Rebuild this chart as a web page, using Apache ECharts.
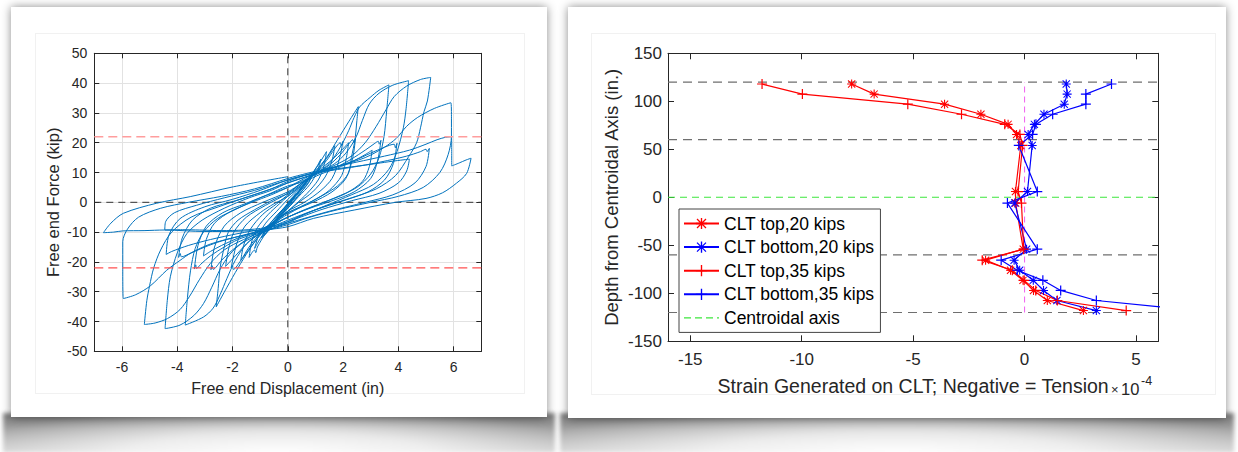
<!DOCTYPE html>
<html>
<head>
<meta charset="utf-8">
<script src="https://cdn.jsdelivr.net/npm/echarts@6/dist/echarts.min.js"></script>
<style>
  html, body { margin: 0; padding: 0; background: #ffffff; }
  body { width: 1238px; height: 452px; position: relative; overflow: hidden; font-family: "Liberation Sans", Arial, sans-serif; }
  .bshadow { position: absolute; top: 413px; height: 40px;
    background:
      radial-gradient(ellipse 60% 115% at 50% 100%, rgba(255,255,255,0.97) 0%, rgba(255,255,255,0.72) 45%, rgba(255,255,255,0) 100%),
      linear-gradient(to bottom, #787878 0%, #a6a6a6 45%, #d0d0d0 100%);
    filter: blur(2px);
  }
  .card { position: absolute; background: #ffffff; box-shadow: 0 0 9px rgba(0,0,0,0.45); }
  .inner { position: absolute; border: 1px solid #f1f1f1; }
  #card1 { left: 11px; top: 7px; width: 536px; height: 410px; }
  #card2 { left: 568px; top: 7px; width: 658px; height: 411px; }
  #bs1 { left: 3px; width: 552px; }
  #bs2 { left: 560px; width: 674px; }
  #in1 { left: 35px; top: 33px; width: 488px; height: 359px; }
  #in2 { left: 591px; top: 33px; width: 623px; height: 360px; }
  #chart { position: absolute; left: 0; top: 0; width: 1238px; height: 452px; }
</style>
</head>
<body>
<div class="bshadow" id="bs1"></div>
<div class="bshadow" id="bs2"></div>
<div class="card" id="card1"></div>
<div class="card" id="card2"></div>
<div class="inner" id="in1"></div>
<div class="inner" id="in2"></div>
<div id="chart"></div>
<script>
// ---------------- Left chart: hysteresis (Free end Displacement [in], Free end Force [kip]) ----------------
const cyc01 = [[0,0],[0.15,1.5],[0.3,3],[0.2,1.8],[0,-0.5],[-0.2,-2.8],[-0.35,-4.5],[-0.25,-3.3],[-0.05,-1]];
const cyc02 = [[0.15,1],[0.35,3.2],[0.5,5],[0.35,3],[0.1,0.2],[-0.15,-2.8],[-0.4,-5.5],[-0.55,-7.5],[-0.4,-5.6],[-0.15,-3],[0.05,-0.8]];
const cyc03 = [[0.3,2.5],[0.6,6],[0.75,8],[0.6,5.5],[0.3,2],[0,-1.5],[-0.3,-4.5],[-0.6,-8],[-0.8,-10.5],[-0.65,-8],[-0.35,-4.5],[-0.05,-1.5]];
const cyc04 = [[0.3,2.5],[0.65,6.5],[0.95,10.5],[0.8,7.5],[0.45,3],[0.1,-1],[-0.2,-4],[-0.55,-8],[-0.95,-12],[-0.8,-9],[-0.45,-5],[-0.1,-1.5]];
const cyc05 = [[0.25,2],[0.6,5.5],[0.9,9.5],[0.75,6.5],[0.35,2],[0,-2],[-0.3,-5],[-0.65,-9],[-0.9,-11.5],[-0.7,-8],[-0.35,-4],[0,-0.5]];
const cyc06 = [[0.4,4],[0.8,8.5],[1.05,12],[1.2,14.5],[1.05,10],[0.8,6],[0.4,2],[0,-2],[-0.4,-5.5],[-0.8,-9.5],[-1.05,-13],[-1.2,-15.5],[-1.05,-11],[-0.8,-7],[-0.4,-3],[0,1]];
const cyc07 = [[0.4,4.5],[0.8,8.5],[1.1,12.5],[1.4,17],[1.3,12],[1.1,7.5],[0.7,3],[0.3,-0.5],[0,-3],[-0.4,-6.5],[-0.8,-10.5],[-1.1,-15],[-1.16,-16.9],[-1.2,-16],[-1.4,-18.5],[-1.3,-13],[-1.1,-8.5],[-0.7,-4],[-0.3,-0.5],[0,2]];
const cyc08 = [[0.5,5.5],[1.0,10],[1.3,13.5],[1.5,16],[1.7,19],[1.6,14],[1.35,8.5],[0.9,3.5],[0.4,0],[0,-3],[-0.5,-6.5],[-1.0,-11],[-1.3,-14.5],[-1.5,-17],[-1.7,-19.5],[-1.6,-14.5],[-1.35,-9],[-0.9,-4],[-0.4,-0.5],[0,2.5]];
const cyc09 = [[0.5,6],[1.0,10],[1.4,14],[1.7,18],[1.9,20],[1.93,19],[2.0,20.5],[1.85,14],[1.6,8],[1.2,4],[0.6,0],[0,-3],[-0.5,-6.5],[-1.0,-10.5],[-1.4,-15],[-1.7,-19.5],[-1.97,-22.5],[-2.0,-21.3],[-2.05,-22],[-1.85,-14],[-1.55,-8],[-1.0,-3.5],[-0.5,-0.5],[0,2]];
const cyc10 = [[0.5,6],[1.0,10.5],[1.4,15],[1.8,21],[2.2,27],[2.55,32.1],[2.5,27.5],[2.43,21],[2.3,15],[2.19,9.7],[1.8,5.5],[1.2,2],[0.5,-1.5],[0,-4],[-0.5,-7],[-1.0,-11],[-1.4,-16],[-1.8,-22],[-2.2,-28.5],[-2.59,-35.1],[-2.52,-29],[-2.45,-22],[-2.3,-15],[-2.15,-10],[-1.8,-6],[-1.2,-2.5],[-0.5,1],[0,3]];
const cyc11 = [[0.5,6.5],[1.0,10],[1.5,13.5],[1.9,17],[2.2,20],[2.12,15],[1.95,9],[1.5,4],[0.9,0.5],[0,-3.5],[-0.5,-6.5],[-1.0,-10],[-1.5,-14],[-1.9,-18],[-2.25,-21.5],[-2.15,-16],[-1.95,-10],[-1.5,-5],[-0.8,-1],[0,3]];
const cyc12 = [[0.5,6.5],[1.0,9.5],[1.5,12.5],[1.9,16],[2.2,19.5],[2.35,21],[2.39,20],[2.45,21.5],[2.35,15],[2.1,8],[1.6,3.5],[0.9,0],[0,-3.5],[-0.5,-6.5],[-1.0,-9.5],[-1.5,-12.5],[-2.0,-16],[-2.4,-19.5],[-2.7,-22.5],[-2.73,-21.3],[-2.78,-22.6],[-2.65,-15],[-2.3,-8],[-1.7,-3.5],[-0.9,0],[0,3.5]];
const cyc13 = [[0.5,6.5],[1.0,9.5],[1.5,13],[1.9,18.5],[2.2,24],[2.4,28.5],[2.6,32],[2.98,35.2],[3.3,37.6],[3.66,39.4],[3.58,31],[3.48,22],[3.3,15],[3.0,9.5],[2.5,5],[1.7,1.5],[0.9,-1.5],[0,-5],[-0.5,-7.5],[-1.0,-10.5],[-1.5,-14],[-1.9,-19.5],[-2.2,-25.5],[-2.45,-31],[-2.7,-35.5],[-3.05,-38.5],[-3.71,-41.2],[-3.63,-32],[-3.52,-23],[-3.35,-15.5],[-3.05,-10],[-2.55,-5.5],[-1.8,-2],[-1.0,1.5],[0,5]];
const cyc14 = [[0.6,7.5],[1.2,10],[1.8,12],[2.3,14.5],[2.8,17.5],[3.15,19.8],[3.27,20.5],[3.31,19.5],[3.37,20.8],[3.25,14],[3.0,8],[2.4,3.5],[1.6,0.5],[0.8,-2],[0,-5],[-0.6,-8],[-1.2,-10.5],[-1.8,-12.5],[-2.3,-15],[-2.8,-18],[-3.15,-20.8],[-3.3,-22.2],[-3.33,-21],[-3.38,-22.4],[-3.25,-14.5],[-2.95,-8],[-2.35,-3.5],[-1.55,-0.5],[-0.75,2.5],[0,5.5]];
const cyc15 = [[0.6,7],[1.2,9.5],[1.8,11.5],[2.4,14],[2.8,16],[3.05,17.5],[2.95,12],[2.7,7],[2.1,3],[1.3,0],[0.6,-2.5],[0,-5],[-0.6,-7.5],[-1.2,-10],[-1.8,-12],[-2.4,-14.5],[-2.8,-16.5],[-3.05,-18],[-2.95,-12.5],[-2.65,-7],[-2.05,-3],[-1.3,0],[-0.6,2.5],[0,5]];
const cyc16 = [[0.6,8],[1.2,10.5],[1.7,13],[2.1,16.5],[2.45,21.5],[2.7,27.5],[2.95,33],[3.3,36.6],[3.8,39.3],[4.37,40.8],[4.28,31.5],[4.18,25],[3.95,17],[3.65,11],[3.1,6],[2.3,2.5],[1.4,-1],[0.6,-4],[0,-6.5],[-0.6,-9],[-1.2,-11.5],[-1.7,-14],[-2.1,-17.5],[-2.45,-22.5],[-2.75,-28.5],[-3.05,-34],[-3.4,-38],[-3.9,-41.2],[-4.44,-42.4],[-4.36,-33],[-4.25,-25],[-4.0,-17],[-3.65,-10.5],[-3.1,-6],[-2.3,-2],[-1.4,1.5],[-0.6,4],[0,6.5]];
const cyc17 = [[0.8,9],[1.6,11.5],[2.4,14],[3.0,16.5],[3.5,18.5],[3.85,19.5],[3.89,18.3],[3.95,19.8],[3.82,13],[3.5,7.5],[2.9,3.5],[2.0,0.5],[1.0,-2.5],[0,-6],[-0.8,-9],[-1.6,-11],[-2.4,-13],[-3.0,-15],[-3.5,-17],[-3.85,-18.3],[-3.89,-17.2],[-3.95,-18.5],[-3.82,-12],[-3.45,-6],[-2.8,-2],[-1.9,0.5],[-0.9,3.5],[0,6.5]];
const cyc18 = [[0.8,9],[1.6,12],[2.3,15.5],[2.8,20],[3.2,25.5],[3.55,31],[3.85,35.5],[4.3,39],[4.8,41.2],[5.17,41.9],[5.05,34],[4.93,30.5],[4.8,25],[4.66,20],[4.37,15.3],[3.9,9],[3.2,4.5],[2.3,1.5],[1.3,-1.5],[0.5,-4.5],[0,-7],[-0.8,-9.5],[-1.6,-12.5],[-2.3,-16],[-2.8,-20.5],[-3.2,-26],[-3.55,-31.5],[-3.9,-36],[-4.35,-39],[-4.8,-40.5],[-5.19,-41],[-5.1,-33],[-5.0,-28],[-4.85,-22],[-4.6,-16],[-4.2,-10],[-3.5,-5],[-2.5,-1.5],[-1.4,2],[-0.6,4.5],[0,7]];
const cyc19 = [[0.8,9.5],[1.6,11],[2.4,12],[3.2,13],[3.8,13.8],[4.4,14.5],[4.3,10.5],[4.0,6.5],[3.3,3],[2.3,0.5],[1.2,-2.5],[0,-6.5],[-0.8,-8.5],[-1.6,-9.3],[-2.4,-9.5],[-3.2,-9.3],[-3.8,-9.2],[-4.45,-9.3],[-4.42,-6.5],[-4.1,-3.5],[-3.3,-1],[-2.3,1.5],[-1.2,4],[0,7.5]];
const cyc20 = [[0.8,9.5],[1.8,11],[2.8,12.5],[3.6,14],[4.3,15.5],[4.8,17],[5.0,17.8],[5.04,17],[5.12,18.1],[5.0,12],[4.6,6.5],[3.8,2.5],[2.8,0],[1.5,-3],[0,-7],[-0.8,-8.8],[-1.8,-10.5],[-2.8,-12.5],[-3.6,-14.5],[-4.2,-16.5],[-4.4,-17.5],[-4.3,-11],[-3.9,-5.5],[-3.0,-1.5],[-2.0,1],[-1.0,4],[0,7.5]];
const cyc21 = [[0.8,9.5],[1.8,12],[2.8,15],[3.5,18.5],[3.93,21.5],[4.3,25.5],[4.7,28.5],[5.3,31.5],[5.9,33.4],[5.92,28],[5.92,22.2],[5.8,16],[5.5,10],[4.9,5],[4.0,2],[3.0,0],[1.8,-2.5],[0.8,-5],[0,-7.5],[-0.8,-9.5],[-1.8,-11.5],[-2.8,-14],[-3.5,-17],[-3.9,-19.5],[-4.38,-22.8],[-4.98,-28.1],[-5.5,-31],[-5.95,-32.3],[-5.97,-22],[-5.97,-13.2],[-5.8,-9],[-5.4,-5],[-4.6,-2],[-3.6,0],[-2.4,2],[-1.2,4.5],[0,8]];
const cyc22 = [[0.69,9.7],[1.5,11.5],[2.5,13.5],[3.5,15.5],[4.4,17.5],[5.0,19.5],[5.4,21],[5.7,21.8],[5.92,22],[5.93,17],[5.93,12.2],[6.2,13.2],[6.45,14.2],[6.63,14.8],[6.47,9.7],[6.1,6.4],[5.6,3.2],[5.0,1.3],[3.9,0],[2.4,-2.6],[0.93,-5.4],[0,-8.2],[-0.8,-9.2],[-1.8,-9.7],[-3.0,-9.8],[-4.45,-9.3],[-5.2,-9.5],[-5.97,-9.6],[-6.3,-10],[-6.67,-10.2],[-6.4,-7],[-5.95,-3.7],[-4.74,-0.3],[-3.53,1.9],[-1.97,5.2],[0,8.6]];
const hysteresisCycles = [cyc01,cyc02,cyc03,cyc04,cyc05,cyc06,cyc07,cyc08,cyc09,cyc10,cyc11,cyc12,cyc13,cyc14,cyc15,cyc16,cyc17,cyc18,cyc19,cyc20,cyc21,cyc22];

const dispLimits = [-7, 7];
const dispTicks = [-6, -4, -2, 0, 2, 4, 6];
const forceLimits = [-50, 50];
const yieldForceLines = [22, -22];

// ---------------- Right chart: strain profile ----------------
const depthIn        = [118, 107.5, 97, 86.5, 76, 65.5, 54, 6, -6, -54, -65.5, -76, -86.5, -97, -107.5, -118];
const strainTop20    = [-7.76, -6.75, -3.59, -1.96, -0.74, -0.36, -0.17, -0.41, -0.40, -0.06, -1.75, -0.63, -0.07, 0.40, 1.02, 2.64];
const strainBottom20 = [1.87, 1.91, 1.78, 0.87, 0.44, 0.16, 0.34, 0.13, -0.44, 0.09, -0.47, -0.22, 0.39, 0.85, 1.45, 3.22];
const strainTop35    = [-11.78, -9.97, -5.24, -2.83, -0.89, -0.21, -0.09, -0.29, -0.14, -0.04, -1.90, -0.55, -0.02, 0.50, 1.47, 4.56];
const strainBottom35 = [3.90, 2.75, 2.75, 1.26, 0.51, 0.36, -0.26, 0.57, -0.77, 0.57, -1.05, -0.33, 0.82, 1.62, 3.22, 7.70];
const strainLimits = [-16, 6];
const strainTicks = [-15, -10, -5, 0, 5];
const depthLimits = [-150, 150];
const interfaceDepths = [120, 60, -60, -120];
const centroidDepth = 0;

// ---------------- build ----------------
const AX = '#262626';
const FONT = '"Liberation Sans", Arial, sans-serif';
const STAR = 'path://M4.4,0 H5.6 V4.4 H10 V5.6 H5.6 V10 H4.4 V5.6 H0 V4.4 H4.4 Z M0.6,1.4 L1.4,0.6 L9.4,8.6 L8.6,9.4 Z M8.6,0.6 L9.4,1.4 L1.4,9.4 L0.6,8.6 Z';
const PLUS = 'path://M4.4,0 H5.6 V4.4 H10 V5.6 H5.6 V10 H4.4 V5.6 H0 V4.4 H4.4 Z';
const DASH_ICON = 'path://M0,0 H7 V1.2 H0 Z M11,0 H18 V1.2 H11 Z M22,0 H29 V1.2 H22 Z M33,0 H35 V1.2 H33 Z';

const hysteresisData = [].concat(...hysteresisCycles);
const zip = (xs, ys) => xs.map((v, i) => [v, ys[i]]);

function boxAxis(extra) {
  return Object.assign({
    type: 'value',
    axisLine: { show: true, onZero: false, lineStyle: { color: AX, width: 1 } },
    axisTick: { show: true, inside: true, length: 5, lineStyle: { color: AX, width: 1 } },
    axisLabel: { show: false },
    splitLine: { show: false }
  }, extra);
}

const series = [];
series.push({
  type: 'line', xAxisIndex: 0, yAxisIndex: 0, data: [[dispLimits[0], 0], [dispLimits[1], 0]],
  showSymbol: false, silent: true, z: 1, lineStyle: { color: '#333', width: 1, type: [7, 5] }
});
series.push({
  type: 'line', xAxisIndex: 0, yAxisIndex: 0, data: [[0, forceLimits[0]], [0, forceLimits[1]]],
  showSymbol: false, silent: true, z: 1, lineStyle: { color: '#333', width: 1, type: [7, 5] }
});
series.push({
  type: 'line', xAxisIndex: 0, yAxisIndex: 0, data: hysteresisData,
  showSymbol: false, silent: true, z: 2, smooth: 0.3, clip: true,
  lineStyle: { color: '#0072BD', width: 1 }
});
yieldForceLines.forEach((f, i) => series.push({
  type: 'line', xAxisIndex: 0, yAxisIndex: 0, data: [[dispLimits[0], f], [dispLimits[1], f]],
  showSymbol: false, silent: true, z: 3,
  lineStyle: { color: i === 0 ? '#ff9d9d' : '#ff5050', width: 1.4, type: [9, 5] }
}));

interfaceDepths.forEach(d => series.push({
  type: 'line', xAxisIndex: 2, yAxisIndex: 2, data: [[strainLimits[0], d], [strainLimits[1], d]],
  showSymbol: false, silent: true, z: 1, lineStyle: { color: '#6f6f6f', width: 1.2, type: [9, 6] }
}));
series.push({
  type: 'line', xAxisIndex: 2, yAxisIndex: 2, data: [[0, interfaceDepths[3]], [0, interfaceDepths[0]]],
  showSymbol: false, silent: true, z: 1, lineStyle: { color: '#f060f0', width: 1, type: [6, 4] }
});

function profile(name, xs, color, symbol, size) {
  return {
    name: name, type: 'line', xAxisIndex: 2, yAxisIndex: 2, data: zip(xs, depthIn),
    symbol: symbol, symbolSize: size, showSymbol: true, clip: true, z: 3,
    lineStyle: { color: color, width: 1.2 },
    itemStyle: { color: color, borderWidth: 0 }
  };
}
series.push(profile('CLT top,20 kips', strainTop20, '#ff0000', STAR, 9));
series.push(profile('CLT bottom,20 kips', strainBottom20, '#0000ff', STAR, 9));
series.push(profile('CLT top,35 kips', strainTop35, '#ff0000', PLUS, 10));
series.push(profile('CLT bottom,35 kips', strainBottom35, '#0000ff', PLUS, 10));
series.push({
  name: 'Centroidal axis', type: 'line', xAxisIndex: 2, yAxisIndex: 2,
  data: [[strainLimits[0], centroidDepth], [strainLimits[1], centroidDepth]],
  symbol: 'none', z: 2, lineStyle: { color: '#3ce63c', width: 1.1, type: [7, 5] },
  itemStyle: { color: '#3ce63c' }
});

const option = {
  animation: false,
  backgroundColor: 'transparent',
  textStyle: { fontFamily: FONT },
  grid: [
    { left: 94.3, top: 53.3, width: 387, height: 298, outerBoundsMode: 'none' },
    { left: 668, top: 53.3, width: 490.3, height: 288, outerBoundsMode: 'none' }
  ],
  xAxis: [
    boxAxis({
      gridIndex: 0, position: 'bottom', min: dispLimits[0], max: dispLimits[1],
      axisTick: { show: true, inside: true, length: 5, customValues: dispTicks, lineStyle: { color: AX } },
      axisLabel: { show: true, customValues: dispTicks, color: AX, fontSize: 14, margin: 9, fontFamily: FONT },
      splitLine: { show: true, lineStyle: { color: '#e2e2e2', width: 1 } },
      name: 'Free end Displacement (in)', nameLocation: 'middle', nameGap: 29,
      nameTextStyle: { color: AX, fontSize: 16, fontFamily: FONT }
    }),
    boxAxis({
      gridIndex: 0, position: 'top', min: dispLimits[0], max: dispLimits[1],
      axisTick: { show: true, inside: true, length: 5, customValues: dispTicks, lineStyle: { color: AX } }
    }),
    boxAxis({
      gridIndex: 1, position: 'bottom', min: strainLimits[0], max: strainLimits[1],
      axisTick: { show: true, inside: true, length: 6, customValues: strainTicks, lineStyle: { color: AX } },
      axisLabel: { show: true, customValues: strainTicks, color: AX, fontSize: 17, margin: 10, fontFamily: FONT },
      name: 'Strain Generated on CLT; Negative = Tension', nameLocation: 'middle', nameGap: 35,
      nameTextStyle: { color: AX, fontSize: 19.5, fontFamily: FONT }
    }),
    boxAxis({
      gridIndex: 1, position: 'top', min: strainLimits[0], max: strainLimits[1],
      axisTick: { show: true, inside: true, length: 6, customValues: strainTicks, lineStyle: { color: AX } }
    })
  ],
  yAxis: [
    boxAxis({
      gridIndex: 0, position: 'left', min: forceLimits[0], max: forceLimits[1], interval: 10,
      axisLabel: { show: true, color: AX, fontSize: 14, margin: 7, fontFamily: FONT },
      splitLine: { show: true, lineStyle: { color: '#e2e2e2', width: 1 } },
      name: 'Free end Force (kip)', nameLocation: 'middle', nameGap: 33,
      nameTextStyle: { color: AX, fontSize: 16.5, fontFamily: FONT }
    }),
    boxAxis({ gridIndex: 0, position: 'right', min: forceLimits[0], max: forceLimits[1], interval: 10 }),
    boxAxis({
      gridIndex: 1, position: 'left', min: depthLimits[0], max: depthLimits[1], interval: 50,
      axisTick: { show: true, inside: true, length: 6, lineStyle: { color: AX } },
      axisLabel: { show: true, color: AX, fontSize: 17, margin: 6, fontFamily: FONT },
      name: 'Depth from Centroidal Axis (in.)', nameLocation: 'middle', nameGap: 47,
      nameTextStyle: { color: AX, fontSize: 18.5, fontFamily: FONT }
    }),
    boxAxis({
      gridIndex: 1, position: 'right', min: depthLimits[0], max: depthLimits[1], interval: 50,
      axisTick: { show: true, inside: true, length: 6, lineStyle: { color: AX } }
    })
  ],
  legend: {
    show: true, left: 679, top: 209, orient: 'vertical', selectedMode: false,
    data: ['CLT top,20 kips', 'CLT bottom,20 kips', 'CLT top,35 kips', 'CLT bottom,35 kips',
           { name: 'Centroidal axis', icon: DASH_ICON }],
    itemWidth: 35, itemHeight: 14, itemGap: 5.6,
    padding: [5.5, 6, 5.5, 4],
    backgroundColor: '#ffffff', borderColor: '#444', borderWidth: 1, borderRadius: 0,
    textStyle: { color: '#000', fontSize: 17.5, fontFamily: FONT },
    z: 10
  },
  graphic: [
    { type: 'text', left: 1111, top: 383, z: 10, style: { text: '×', fontSize: 13, fill: AX, fontFamily: FONT } },
    { type: 'text', left: 1121, top: 380, z: 10, style: { text: '10', fontSize: 16.5, fill: AX, fontFamily: FONT } },
    { type: 'text', left: 1141, top: 374, z: 10, style: { text: '-4', fontSize: 12.5, fill: AX, fontFamily: FONT } }
  ],
  series: series
};

const chart = echarts.init(document.getElementById('chart'), null, { renderer: 'svg', width: 1238, height: 452 });
chart.setOption(option);
</script>
</body>
</html>
